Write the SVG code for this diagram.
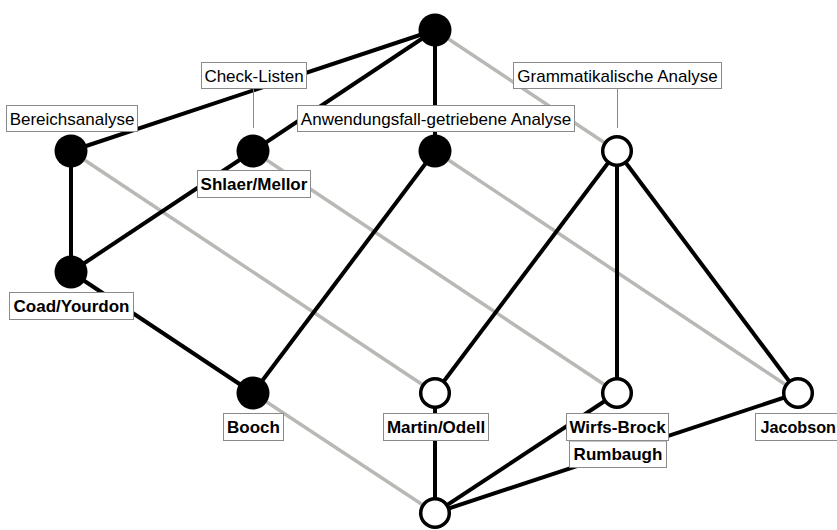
<svg xmlns="http://www.w3.org/2000/svg" width="837" height="530" viewBox="0 0 837 530">
  <style>
    .edge { stroke: #000; stroke-width: 4; fill: none; }
    .weak { stroke: #b8b8b4; stroke-width: 3.5; fill: none; }
    .full { fill: #000; }
    .empty { fill: #fff; stroke: #000; stroke-width: 3.5; }
    .box { fill: #fff; stroke: #8a8a8a; stroke-width: 1; }
    .lead { stroke: #8a8a8a; stroke-width: 1; }
    text { font-family: "Liberation Sans", Arial, Helvetica, sans-serif; font-size: 17px; fill: #000; text-anchor: middle; }
    .bold { font-weight: bold; }
  </style>

  <rect width="837" height="530" fill="#fff"/>

  <!-- connectors -->
  <g id="connectors">
    <g id="weak-edges">
      <line class="weak" x1="435" y1="30" x2="617" y2="151"/>
      <line class="weak" x1="71" y1="151" x2="435" y2="393"/>
      <line class="weak" x1="253" y1="151" x2="617" y2="393"/>
      <line class="weak" x1="435" y1="151" x2="798" y2="393"/>
      <line class="weak" x1="253" y1="393" x2="435" y2="513"/>
    </g>
    <g id="strong-edges">
      <line class="edge" x1="435" y1="30" x2="71" y2="151"/>
      <line class="edge" x1="435" y1="30" x2="253" y2="151"/>
      <line class="edge" x1="435" y1="30" x2="435" y2="151"/>
      <line class="edge" x1="71" y1="151" x2="71" y2="272"/>
      <line class="edge" x1="253" y1="151" x2="71" y2="272"/>
      <line class="edge" x1="71" y1="272" x2="253" y2="393"/>
      <line class="edge" x1="435" y1="151" x2="253" y2="393"/>
      <line class="edge" x1="617" y1="151" x2="435" y2="393"/>
      <line class="edge" x1="617" y1="151" x2="617" y2="393"/>
      <line class="edge" x1="617" y1="151" x2="798" y2="393"/>
      <line class="edge" x1="435" y1="393" x2="435" y2="513"/>
      <line class="edge" x1="617" y1="393" x2="435" y2="513"/>
      <line class="edge" x1="798" y1="393" x2="435" y2="513"/>
    </g>
    <g id="leaders">
      <line class="lead" x1="253.5" y1="88" x2="253.5" y2="128"/>
      <line class="lead" x1="617.5" y1="88" x2="617.5" y2="128"/>
    </g>
  </g>

  <!-- nodes -->
  <g id="top"><circle class="full" cx="435" cy="30" r="16.5"/></g>
  <g id="bereichsanalyse"><circle class="full" cx="71" cy="151" r="16.5"/></g>
  <g id="shlaer-mellor"><circle class="full" cx="253" cy="151" r="16.5"/></g>
  <g id="anwendungsfall"><circle class="full" cx="435" cy="151" r="16.5"/></g>
  <g id="grammatikalisch"><circle class="empty" cx="617" cy="151" r="14.3"/></g>
  <g id="coad-yourdon"><circle class="full" cx="71" cy="272" r="16.5"/></g>
  <g id="booch"><circle class="full" cx="253" cy="393" r="16.5"/></g>
  <g id="martin-odell"><circle class="empty" cx="435" cy="393" r="14.3"/></g>
  <g id="wirfs-brock"><circle class="empty" cx="617" cy="393" r="14.3"/></g>
  <g id="jacobson"><circle class="empty" cx="798" cy="393" r="14.3"/></g>
  <g id="bottom"><circle class="empty" cx="435" cy="513" r="14.3"/></g>

  <!-- labels -->
  <g id="label-check-listen">
    <rect class="box" x="201.5" y="62.5" width="105" height="26"/>
    <text x="254" y="82">Check-Listen</text>
  </g>
  <g id="label-grammatikalische-analyse">
    <rect class="box" x="513.5" y="62.5" width="208" height="26"/>
    <text x="617.5" y="82">Grammatikalische Analyse</text>
  </g>
  <g id="label-bereichsanalyse">
    <rect class="box" x="6.5" y="105.5" width="131" height="26"/>
    <text x="72" y="125">Bereichsanalyse</text>
  </g>
  <g id="label-anwendungsfall">
    <rect class="box" x="297.5" y="105.5" width="277" height="26"/>
    <text x="436" y="125">Anwendungsfall-getriebene Analyse</text>
  </g>
  <g id="label-shlaer-mellor">
    <rect class="box" x="197.5" y="170.5" width="113" height="27"/>
    <text class="bold" x="254" y="190">Shlaer/Mellor</text>
  </g>
  <g id="label-coad-yourdon">
    <rect class="box" x="9.5" y="292.5" width="124" height="27"/>
    <text class="bold" x="71.5" y="312">Coad/Yourdon</text>
  </g>
  <g id="label-booch">
    <rect class="box" x="223.5" y="413.5" width="60" height="27"/>
    <text class="bold" x="253.5" y="433">Booch</text>
  </g>
  <g id="label-martin-odell">
    <rect class="box" x="383.5" y="413.5" width="105" height="27"/>
    <text class="bold" x="436" y="433">Martin/Odell</text>
  </g>
  <g id="label-wirfs-brock">
    <rect class="box" x="566.5" y="413.5" width="102" height="27"/>
    <text class="bold" x="617.5" y="433">Wirfs-Brock</text>
  </g>
  <g id="label-rumbaugh">
    <rect class="box" x="569.5" y="441" width="97" height="26.5"/>
    <text class="bold" x="618" y="460">Rumbaugh</text>
  </g>
  <g id="label-jacobson">
    <rect class="box" x="755.5" y="413.5" width="90" height="27"/>
    <text class="bold" x="760.5" y="433" style="text-anchor:start" textLength="75.5" lengthAdjust="spacingAndGlyphs">Jacobson</text>
  </g>
</svg>
